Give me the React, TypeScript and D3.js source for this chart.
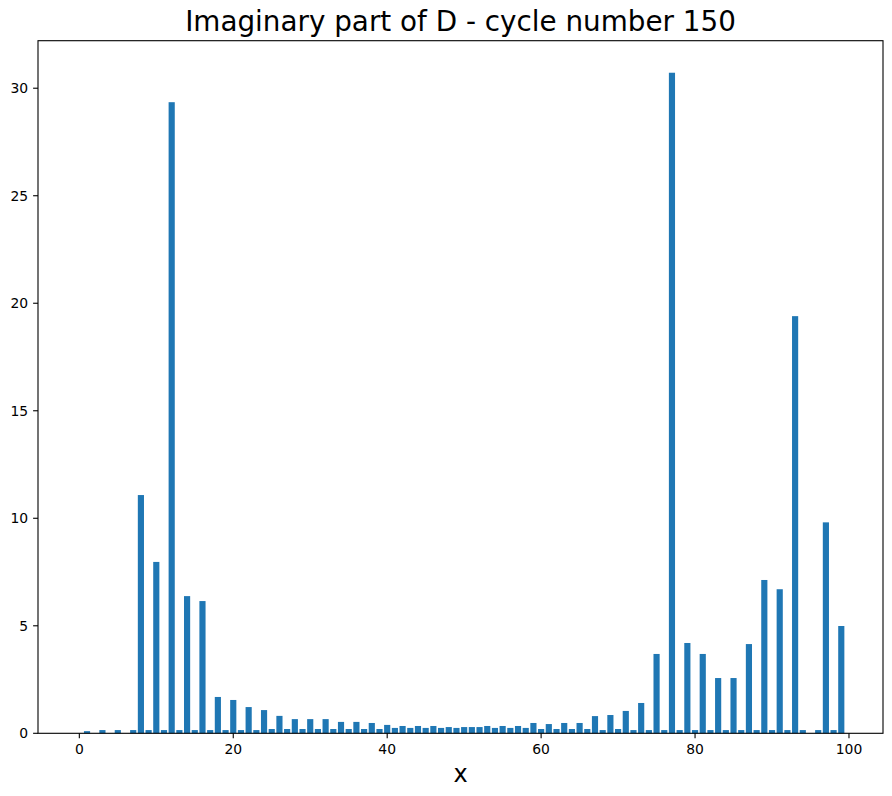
import React from "react";
import * as d3 from "d3";

const xValues: number[] = Array.from({ length: 100 }, (_, i) => i);
const values: number[] = [
  0, 0.1, 0, 0.15, 0, 0.15, 0, 0.15, 11.08, 0.15,
  7.97, 0.15, 29.35, 0.15, 6.38, 0.15, 6.15, 0.15, 1.69, 0.15,
  1.55, 0.15, 1.22, 0.15, 1.08, 0.2, 0.81, 0.2, 0.66, 0.2,
  0.66, 0.2, 0.66, 0.2, 0.53, 0.2, 0.53, 0.2, 0.48, 0.2,
  0.39, 0.25, 0.34, 0.25, 0.34, 0.25, 0.34, 0.25, 0.29, 0.25,
  0.29, 0.29, 0.29, 0.34, 0.25, 0.34, 0.25, 0.34, 0.25, 0.48,
  0.2, 0.43, 0.2, 0.48, 0.2, 0.48, 0.2, 0.8, 0.15, 0.85,
  0.2, 1.04, 0.15, 1.41, 0.15, 3.69, 0.15, 30.72, 0.15, 4.2,
  0.15, 3.69, 0.15, 2.57, 0.15, 2.57, 0.15, 4.15, 0.15, 7.13,
  0.15, 6.7, 0.15, 19.4, 0.15, 0, 0.15, 9.81, 0.15, 4.99,
];
const xTicks: number[] = [0, 20, 40, 60, 80, 100];
const yTicks: number[] = [0, 5, 10, 15, 20, 25, 30];
const title = "Imaginary part of D - cycle number 150";
const xLabel = "x";

const W = 892;
const H = 796;
const left = 38;
const right = 883;
const top = 40.7;
const bottom = 733.3;
const barWidth = 0.8;
const font = "DejaVu Sans, sans-serif";

export default function App() {
  const x = d3.scaleLinear().domain([-5.37, 104.42]).range([left, right]);
  const y = d3.scaleLinear().domain([0, 32.21]).range([bottom, top]);
  const bw = x(barWidth) - x(0);
  return (
    <svg
      width={W}
      height={H}
      style={{ position: "absolute", left: 0, top: 0, background: "#fff" }}
      fontFamily={font}
    >
      <rect x={0} y={0} width={W} height={H} fill="#fff" />
      {xValues.map((xv, i) => (
        <rect
          key={i}
          x={x(xv) - bw / 2}
          y={y(values[i])}
          width={bw}
          height={y(0) - y(values[i])}
          fill="#1f77b4"
        />
      ))}
      <rect
        x={left}
        y={top}
        width={right - left}
        height={bottom - top}
        fill="none"
        stroke="#000"
        strokeWidth={1.1}
      />
      {xTicks.map((t) => (
        <g key={"x" + t}>
          <line x1={x(t)} x2={x(t)} y1={bottom} y2={bottom + 4.9} stroke="#000" strokeWidth={1.1} />
          <text x={x(t)} y={bottom + 20.5} textAnchor="middle" fontSize={13.9} fill="#000">
            {t}
          </text>
        </g>
      ))}
      {yTicks.map((t) => (
        <g key={"y" + t}>
          <line x1={left - 4.9} x2={left} y1={y(t)} y2={y(t)} stroke="#000" strokeWidth={1.1} />
          <text x={left - 9.8} y={y(t)} dy="0.36em" textAnchor="end" fontSize={13.9} fill="#000">
            {t}
          </text>
        </g>
      ))}
      <text x={(left + right) / 2} y={31} textAnchor="middle" fontSize={27.8} fill="#000">
        {title}
      </text>
      <text x={(left + right) / 2} y={782} textAnchor="middle" fontSize={24} fill="#000">
        {xLabel}
      </text>
    </svg>
  );
}
